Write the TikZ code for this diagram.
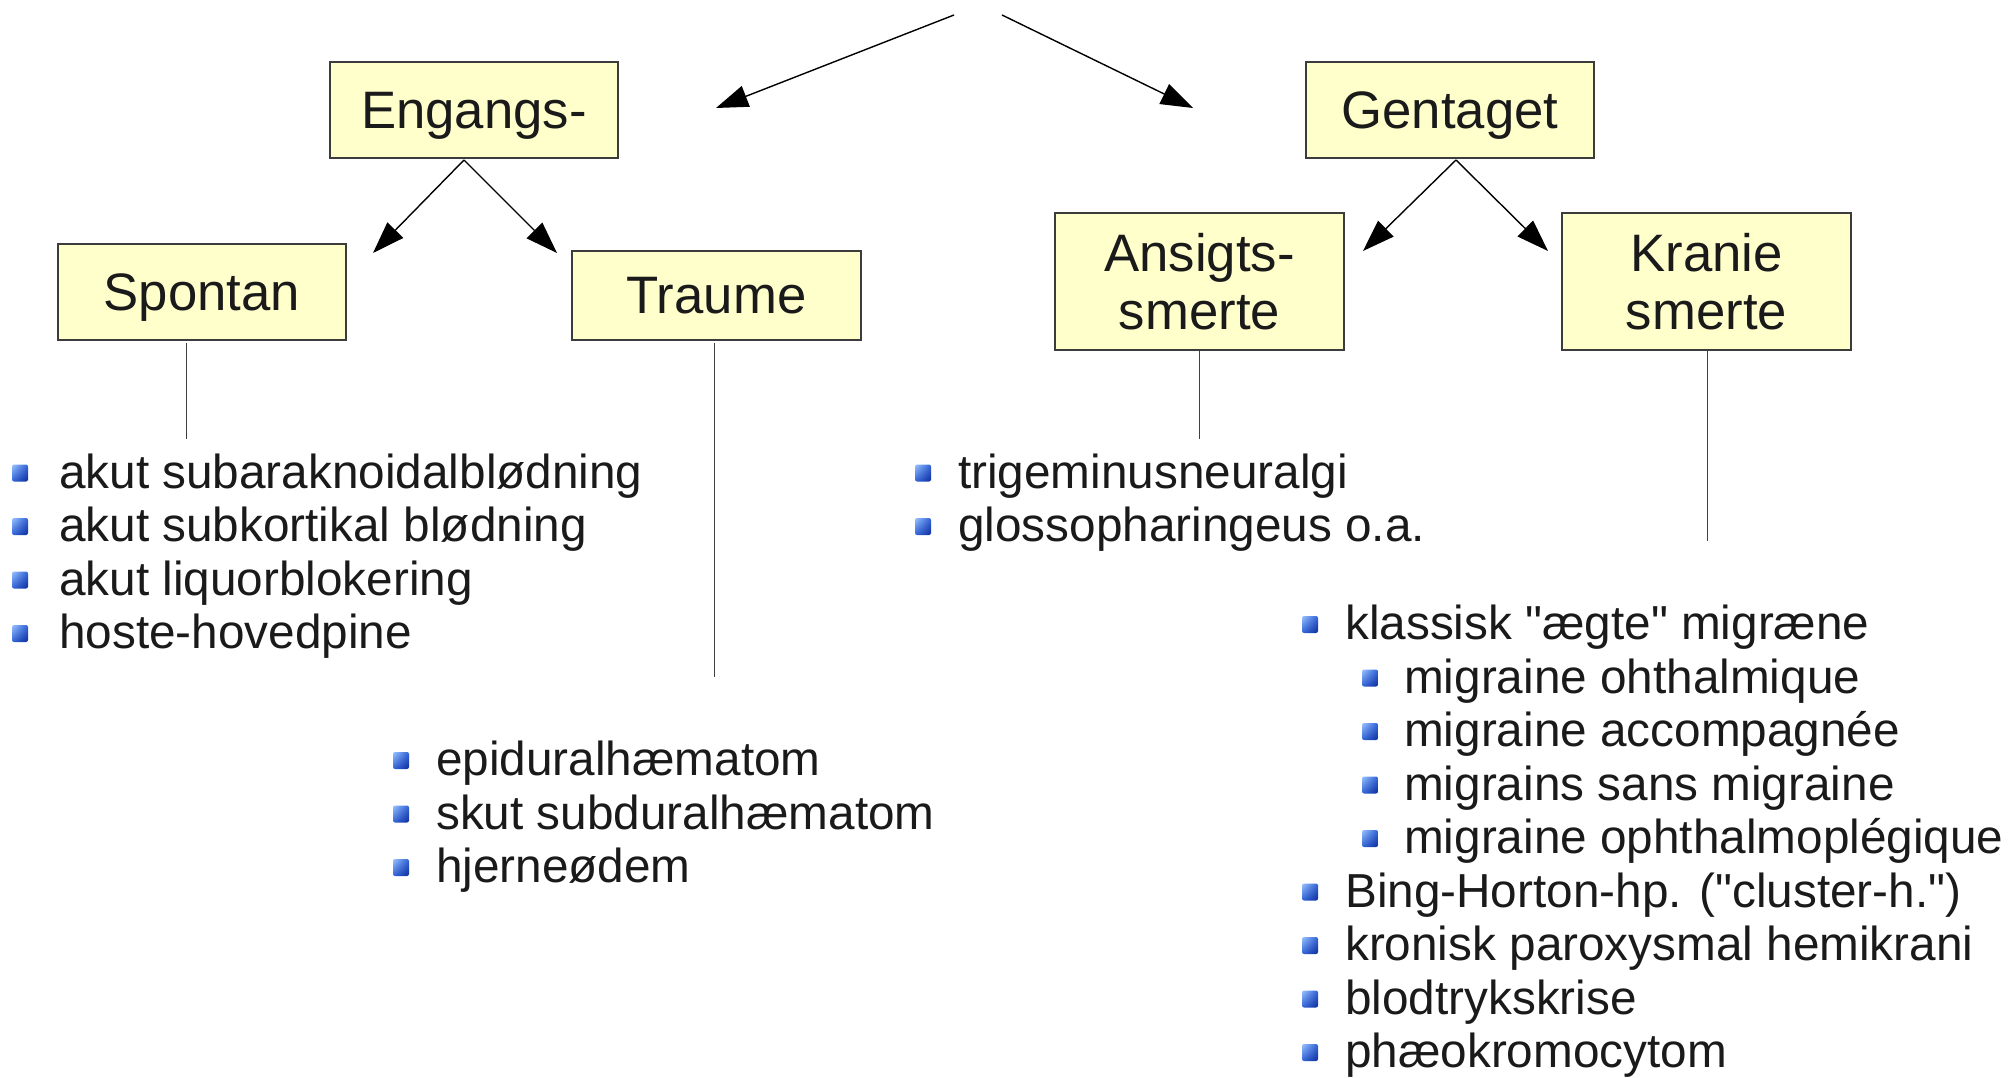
\documentclass[tikz,border=0pt]{standalone}
\usepackage{fontspec}
\setmainfont{Liberation Sans}
\newfontfamily\lib{Liberation Sans}
\usetikzlibrary{arrows.meta,shadings}
\definecolor{boxfill}{HTML}{FFFFCC}
\definecolor{boxline}{HTML}{3C3C3C}
\definecolor{txt}{HTML}{1A1A1A}
\definecolor{bA}{HTML}{9CC4FF}
\definecolor{bB}{HTML}{2F63D8}
\definecolor{bC}{HTML}{0E2C9A}
\tikzset{
  box/.style={draw=boxline, line width=1.3pt, fill=boxfill, inner sep=0pt, align=center,
    font=\lib\fontsize{52.7}{58}\selectfont, text=txt},
  conn/.style={line width=1.4pt, -{Triangle[length=32pt,width=22pt]}},
  stem/.style={line width=1pt, draw=black!75},
  item/.style={anchor=base west, inner sep=0pt, font=\lib\fontsize{47.7}{53.5}\selectfont, text=txt},
}
\newcommand\mybul[2]{\shade[upper left=bA, upper right=bB, lower left=bB, lower right=bC, rounded corners=2pt]
  ({#1-8},{#2-8.5}) rectangle ({#1+8},{#2+8.5});}
% name, bullet x, text x, baseline, text
\newcommand\myitem[5]{\node[item] (#1) at (#3,#4) {#5};\mybul{#2}{#4-15}}
\begin{document}
\begin{tikzpicture}[x=1pt,y=-1pt]
\useasboundingbox (0,0) rectangle (2011,1078);
% boxes
\node[box, text depth=0pt, minimum width=288pt, minimum height=96pt] (eng) at (474,110) {Engangs-};
\node[box, text depth=0pt, minimum width=288pt, minimum height=96pt] (gen) at (1450,110) {Gentaget};
\node[box, text depth=0pt, minimum width=288pt, minimum height=96pt] (sp) at (202,292) {Spontan};
\node[box, minimum width=289pt, minimum height=89pt] (tr) at (716.5,295.5) {Traume};
\node[box, minimum width=289pt, minimum height=137pt] (an) at (1199.5,281.5) {Ansigts-\\smerte};
\node[box, minimum width=289pt, minimum height=137pt] (kr) at (1706.5,281.5) {Kranie\\smerte};
% top arrows
\coordinate (topL) at (954,15);
\coordinate (topR) at (1002,15);
\coordinate (tipL) at (716,108);
\coordinate (tipR) at (1193,108);
\draw[conn] (topL) -- (tipL);
\draw[conn] (topR) -- (tipR);
% Engangs arrows
\coordinate (engS) at (464,160);
\coordinate (engL) at (373,253);
\coordinate (engR) at (557,253);
\draw[conn] (engS) -- (engL);
\draw[conn] (engS) -- (engR);
% Gentaget arrows
\coordinate (genS) at (1456,160);
\coordinate (genL) at (1363,251);
\coordinate (genR) at (1548,251);
\draw[conn] (genS) -- (genL);
\draw[conn] (genS) -- (genR);
% stems
\coordinate (spA) at (186,343); \coordinate (spB) at (186,439);
\coordinate (trA) at (714,343); \coordinate (trB) at (714,677);
\coordinate (anA) at (1199,351); \coordinate (anB) at (1199,439);
\coordinate (krA) at (1707,351); \coordinate (krB) at (1707,541);
\draw[stem] (spA) -- (spB);
\draw[stem] (trA) -- (trB);
\draw[stem] (anA) -- (anB);
\draw[stem] (krA) -- (krB);
% Spontan list
\myitem{s1}{20}{59}{488}{akut subaraknoidalblødning}
\myitem{s2}{20}{59}{541.5}{akut subkortikal blødning}
\myitem{s3}{20}{59}{595}{akut liquorblokering}
\myitem{s4}{20}{59}{648.5}{hoste-hovedpine}
% Traume list
\myitem{t1}{401}{436}{775.5}{epiduralhæmatom}
\myitem{t2}{401}{436}{829}{skut subduralhæmatom}
\myitem{t3}{401}{436}{882.5}{hjerneødem}
% Ansigts list
\myitem{a1}{923}{958}{488}{trigeminusneuralgi}
\myitem{a2}{923}{958}{541.5}{glossopharingeus o.a.}
% Kranie list
\myitem{k1}{1310}{1345}{639.5}{klassisk "ægte" migræne}
\myitem{k2}{1370}{1404}{693}{migraine ohthalmique}
\myitem{k3}{1370}{1404}{746.5}{migraine accompagnée}
\myitem{k4}{1370}{1404}{800}{migrains sans migraine}
\myitem{k5}{1370}{1404}{853.5}{migraine ophthalmoplégique}
\myitem{k6}{1310}{1345}{907}{Bing-Horton-hp. ("cluster-h.")}
\myitem{k7}{1310}{1345}{960.5}{kronisk paroxysmal hemikrani}
\myitem{k8}{1310}{1345}{1014}{blodtrykskrise}
\myitem{k9}{1310}{1345}{1067.5}{phæokromocytom}
\end{tikzpicture}
\end{document}
